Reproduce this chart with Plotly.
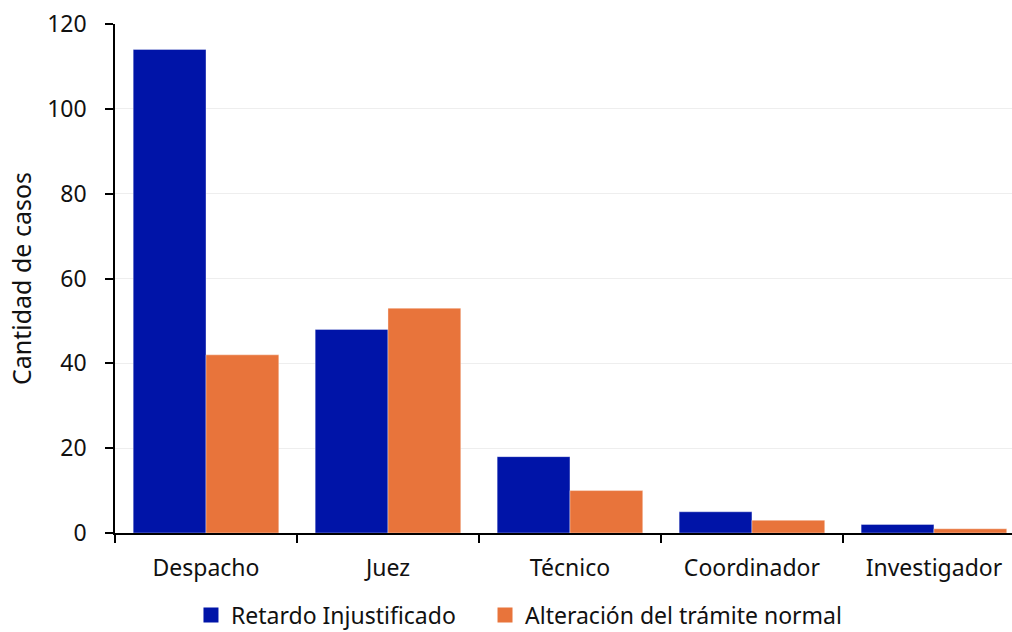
import plotly.graph_objects as go

categories = ["Despacho", "Juez", "Técnico", "Coordinador", "Investigador"]
retardo = [114, 48, 18, 5, 2]
alteracion = [42, 53, 10, 3, 1]
series_names = ["Retardo Injustificado", "Alteración del trámite normal"]
colors = ["#0014A8", "#E8743B"]
y_ticks = [0, 20, 40, 60, 80, 100, 120]

FONT = "Noto Sans"
fig = go.Figure()
for vals, name, col in zip([retardo, alteracion], series_names, colors):
    fig.add_trace(go.Bar(x=categories, y=vals, name=name, showlegend=False,
                         marker=dict(color=col, line=dict(color="rgba(255,255,255,0.6)", width=0.6))))
# legend entries with larger square swatches, one legend box each
for name, col, lg in zip(series_names, colors, ["legend", "legend2"]):
    fig.add_trace(go.Scatter(x=[None], y=[None], mode="markers", name=name, legend=lg,
                             marker=dict(symbol="square", size=15, color=col)))

leg_common = dict(orientation="h", yref="paper", y=-0.119, yanchor="top",
                  xanchor="left", font=dict(size=23), itemsizing="trace", itemwidth=30,
                  bgcolor="rgba(0,0,0,0)")
fig.update_layout(
    width=1012, height=632,
    margin=dict(l=115, r=0, t=24, b=99, autoexpand=False),
    paper_bgcolor="white", plot_bgcolor="white",
    barmode="group", bargap=0.2, bargroupgap=0,
    font=dict(family=FONT, size=23, color="#111111"),
    legend=dict(x=0.0847, **leg_common),
    legend2=dict(x=0.4125, **leg_common),
    showlegend=True,
)
fig.update_xaxes(range=[-0.5, 4.429], showline=True, linecolor="black", linewidth=1.5,
                 ticks="outside", tickson="boundaries", ticklen=8, tickcolor="black", tickwidth=1.5,
                 showgrid=False, tickfont=dict(size=23), ticklabelstandoff=14)
fig.update_yaxes(range=[0, 120], tickvals=y_ticks, showline=True, linecolor="black", linewidth=1.5,
                 ticks="outside", ticklen=8, tickcolor="black", tickwidth=1.5,
                 showgrid=True, gridcolor="#eeeeee", gridwidth=1, zeroline=False,
                 title=dict(text="Cantidad de casos", font=dict(size=25), standoff=8),
                 tickfont=dict(size=23), ticklabelstandoff=14)

fig.write_html("out.html")
